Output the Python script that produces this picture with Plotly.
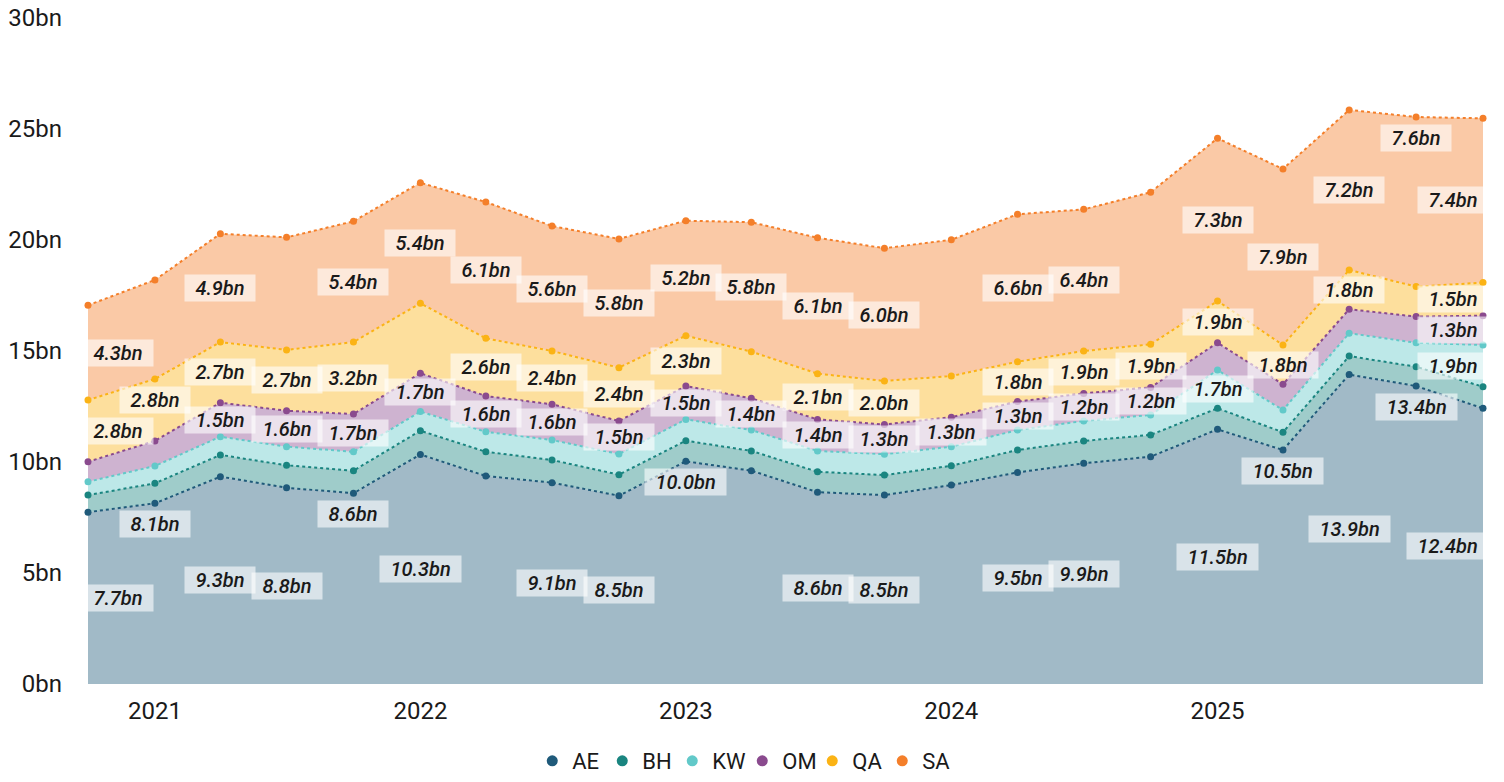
import plotly.graph_objects as go

# ---------------- data ----------------
DATES = ['2020-10-01', '2021-01-01', '2021-04-01', '2021-07-01', '2021-10-01',
         '2022-01-01', '2022-04-01', '2022-07-01', '2022-10-01', '2023-01-01',
         '2023-04-01', '2023-07-01', '2023-10-01', '2024-01-01', '2024-04-01',
         '2024-07-01', '2024-10-01', '2025-01-01', '2025-04-01', '2025-07-01',
         '2025-10-01', '2026-01-01']

SERIES = ['AE', 'BH', 'KW', 'OM', 'QA', 'SA']

AE = [7.74, 8.14, 9.34, 8.84, 8.59, 10.34, 9.37, 9.07, 8.48, 10.03, 9.61,
      8.64, 8.51, 8.96, 9.53, 9.94, 10.24, 11.47, 10.54, 13.94, 13.42, 12.42]
BH = [0.77, 0.90, 0.98, 1.01, 1.02, 1.07, 1.09, 1.02, 0.95, 0.93, 0.89,
      0.92, 0.90, 0.87, 1.01, 1.01, 0.98, 0.95, 0.80, 0.83, 0.87, 0.97]
KW = [0.60, 0.78, 0.82, 0.84, 0.85, 0.86, 0.90, 0.90, 0.93, 0.96, 0.94,
      0.94, 0.94, 0.86, 0.90, 0.90, 0.90, 1.72, 1.00, 1.03, 1.08, 1.88]
OM = [0.90, 1.13, 1.53, 1.62, 1.70, 1.73, 1.61, 1.61, 1.49, 1.50, 1.43,
      1.42, 1.34, 1.33, 1.28, 1.24, 1.24, 1.23, 1.16, 1.08, 1.18, 1.32]
QA = [2.78, 2.79, 2.73, 2.74, 3.24, 3.15, 2.60, 2.40, 2.40, 2.27, 2.10,
      2.06, 1.96, 1.85, 1.80, 1.91, 1.94, 1.88, 1.77, 1.77, 1.35, 1.49]
SA = [4.27, 4.46, 4.88, 5.07, 5.44, 5.43, 6.14, 5.63, 5.80, 5.18, 5.83,
      6.12, 5.98, 6.14, 6.64, 6.38, 6.85, 7.33, 7.93, 7.21, 7.64, 7.40]

VALUES = {'AE': AE, 'BH': BH, 'KW': KW, 'OM': OM, 'QA': QA, 'SA': SA}

Y_TICKS = [0, 5, 10, 15, 20, 25, 30]
Y_TICK_LABELS = ['0bn', '5bn', '10bn', '15bn', '20bn', '25bn', '30bn']

# which points carry a visible value label (others hidden to avoid overlap)
LABELLED = {
    'AE': [0, 1, 2, 3, 4, 5, 7, 8, 9, 11, 12, 14, 15, 17, 18, 19, 20, 21],
    'BH': [],
    'KW': [17, 21],
    'OM': [2, 3, 4, 5, 6, 7, 8, 9, 10, 11, 12, 13, 14, 15, 16, 21],
    'QA': [0, 1, 2, 3, 4, 6, 7, 8, 9, 11, 12, 14, 15, 16, 17, 18, 19, 21],
    'SA': [0, 2, 4, 5, 6, 7, 8, 9, 10, 11, 12, 14, 15, 17, 18, 19, 20, 21],
}
# labels placed just under the series' top edge instead of the band centre
TOP_PLACED = {'AE': [1, 4, 9, 18, 20], 'QA': [1], 'SA': [20]}

# ---------------- style ----------------
COLORS = {
    'AE': (31, 90, 122),
    'BH': (26, 133, 128),
    'KW': (98, 201, 201),
    'OM': (138, 74, 142),
    'QA': (251, 179, 21),
    'SA': (244, 127, 42),
}
FONT = 'Roboto, "Open Sans", "DejaVu Sans", sans-serif'
TEXT = '#1a1a1a'
LABEL_FS = 20
CHAR_W = {'.': 0.263, 'b': 0.561, 'n': 0.552}


def rgb(c, a=None):
    if a is None:
        return 'rgb(%d,%d,%d)' % c
    return 'rgba(%d,%d,%d,%.2f)' % (c + (a,))


fig = go.Figure()

for name in SERIES:
    col = COLORS[name]
    fig.add_trace(go.Scatter(
        x=DATES, y=VALUES[name], name=name,
        stackgroup='one', mode='lines+markers',
        line=dict(color=rgb(col), width=2, dash='dot'),
        marker=dict(color=rgb(col), size=7),
        fillcolor=rgb(col, 0.42),
        cliponaxis=False, showlegend=False, legendgroup=name,
        hovertemplate='%{y:.1f}bn<extra>' + name + '</extra>',
    ))

# legend entries (circle markers only)
for name in SERIES:
    fig.add_trace(go.Scatter(
        x=[None], y=[None], name=name, mode='markers',
        marker=dict(color=rgb(COLORS[name]), size=11),
        legendgroup=name, showlegend=True,
    ))

# value labels
annotations = []
base = [0.0] * len(DATES)
last = len(DATES) - 1
for name in SERIES:
    vals = VALUES[name]
    for i in LABELLED[name]:
        v = vals[i]
        txt = f'{v:.1f}bn'
        w = sum(CHAR_W.get(ch, 0.5615) for ch in txt) * LABEL_FS + 20
        if i in TOP_PLACED.get(name, []):
            y = base[i] + v
            ysh = -21
        else:
            y = base[i] + v / 2
            ysh = 0
        if i == 0:
            xa, xsh = 'left', -6
        elif i == last:
            xa, xsh = 'right', 6
        else:
            xa, xsh = 'center', 0
        annotations.append(dict(
            x=DATES[i], y=y, xref='x', yref='y', text=f'<i>{txt}</i>',
            showarrow=False, xanchor=xa, yanchor='middle',
            xshift=xsh, yshift=ysh,
            width=w, height=26, borderpad=0,
            bgcolor='rgba(255,255,255,0.6)',
            font=dict(family=FONT, size=LABEL_FS, color=TEXT, weight=500),
        ))
    base = [b + v for b, v in zip(base, vals)]

fig.update_layout(
    width=1504, height=782,
    margin=dict(l=88, r=21, t=18, b=98, autoexpand=False),
    paper_bgcolor='white', plot_bgcolor='white',
    font=dict(family=FONT, color=TEXT),
    annotations=annotations,
    showlegend=True,
    legend=dict(
        orientation='h', xref='paper', x=0.469, xanchor='center',
        yref='container', y=0.0, yanchor='bottom',
        font=dict(size=22, color=TEXT, family=FONT),
        entrywidth=25, itemclick=False, itemdoubleclick=False,
    ),
    xaxis=dict(
        type='date', range=[DATES[0], DATES[-1]],
        dtick='M12', tick0='2021-01-01', tickformat='%Y',
        showgrid=False, zeroline=False, showline=False, ticks='',
        ticklabelstandoff=10, automargin=False,
        tickfont=dict(size=24, color=TEXT),
    ),
    yaxis=dict(
        range=[0, 30], tickvals=Y_TICKS, ticktext=Y_TICK_LABELS,
        showgrid=False, zeroline=False, showline=False, ticks='',
        ticklabelstandoff=25, automargin=False, ticklabeloverflow='allow',
        tickfont=dict(size=24, color=TEXT),
    ),
)

# remove the default page margin so the figure sits at the window's corner
fig.write_html('out.html',
               config={'displayModeBar': False},
               post_script="document.body.style.margin='0px';")
